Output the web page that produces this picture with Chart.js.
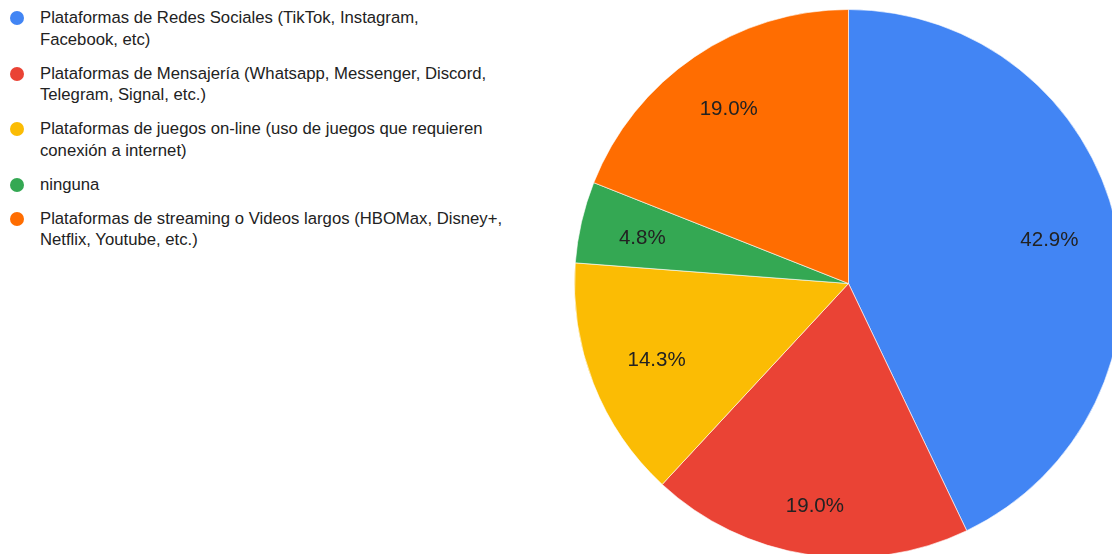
<!DOCTYPE html>
<html lang="es">
<head>
<meta charset="utf-8">
<script src="https://cdn.jsdelivr.net/npm/chart.js@4/dist/chart.umd.min.js"></script>
<style>
  html, body { margin: 0; padding: 0; background: #fff; width: 1112px; height: 554px; overflow: hidden; }
  body { position: relative; font-family: "Liberation Sans", Arial, sans-serif; }
  #legend { position: absolute; left: 10px; top: 7px; margin: 0; padding: 0; list-style: none; }
  #legend li { position: relative; padding-left: 30px; margin-bottom: 12.5px; font-size: 16.7px; line-height: 21.5px; color: #222; white-space: nowrap; }
  #legend .dot { position: absolute; left: 0; top: 4px; width: 14px; height: 14px; border-radius: 50%; }
  #pieWrap { position: absolute; left: 574px; top: 9px; }
</style>
</head>
<body>
<ul id="legend"></ul>
<div id="pieWrap"><canvas id="pie" width="549" height="549"></canvas></div>
<script>
// Categories (each entry split into the lines shown in the legend)
const categories = [
  ['Plataformas de Redes Sociales (TikTok, Instagram,', 'Facebook, etc)'],
  ['Plataformas de Mensajería (Whatsapp, Messenger, Discord,', 'Telegram, Signal, etc.)'],
  ['Plataformas de juegos on-line (uso de juegos que requieren', 'conexión a internet)'],
  ['ninguna'],
  ['Plataformas de streaming o Videos largos (HBOMax, Disney+,', 'Netflix, Youtube, etc.)']
];
// Share of responses, in percent
const shares = [42.9, 19.0, 14.3, 4.8, 19.0];
const colors = ['#4285F4', '#EA4335', '#FBBC04', '#34A853', '#FF6D01'];

// Legend
const legend = document.getElementById('legend');
categories.forEach((lines, i) => {
  const li = document.createElement('li');
  const dot = document.createElement('span');
  dot.className = 'dot';
  dot.style.background = colors[i];
  li.appendChild(dot);
  lines.forEach((t, j) => {
    if (j) li.appendChild(document.createElement('br'));
    li.appendChild(document.createTextNode(t));
  });
  legend.appendChild(li);
});

// Percentage labels inside each slice: the text box is pushed outward along
// the slice bisector until its outermost corner reaches a fixed radius.
const LABEL_FONT_SIZE = 20.5;
const sliceLabels = {
  id: 'sliceLabels',
  afterDatasetsDraw(chart) {
    const { ctx } = chart;
    const meta = chart.getDatasetMeta(0);
    ctx.save();
    ctx.font = LABEL_FONT_SIZE + 'px "Liberation Sans", Arial, sans-serif';
    ctx.fillStyle = '#222';
    ctx.textAlign = 'center';
    ctx.textBaseline = 'middle';
    meta.data.forEach((arc, i) => {
      const p = arc.getProps(['x', 'y', 'startAngle', 'endAngle', 'outerRadius'], true);
      const mid = (p.startAngle + p.endAngle) / 2;
      const dx = Math.cos(mid), dy = Math.sin(mid);
      const text = chart.data.datasets[0].data[i].toFixed(1) + '%';
      const halfW = ctx.measureText(text).width / 2;
      const halfH = LABEL_FONT_SIZE * 0.4;
      const extent = halfW * Math.abs(dx) + halfH * Math.abs(dy);
      const r = p.outerRadius * 0.862 - extent;
      ctx.fillText(text, p.x + dx * r, p.y + dy * r + 2);
    });
    ctx.restore();
  }
};

new Chart(document.getElementById('pie'), {
  type: 'pie',
  data: {
    labels: categories.map(l => l.join(' ')),
    datasets: [{
      data: shares,
      backgroundColor: colors,
      borderColor: 'rgba(255,255,255,0.6)',
      borderWidth: 1,
      hoverOffset: 0
    }]
  },
  options: {
    responsive: false,
    animation: false,
    layout: { padding: 0 },
    plugins: {
      legend: { display: false },
      tooltip: { enabled: false }
    }
  },
  plugins: [sliceLabels]
});
</script>
</body>
</html>
